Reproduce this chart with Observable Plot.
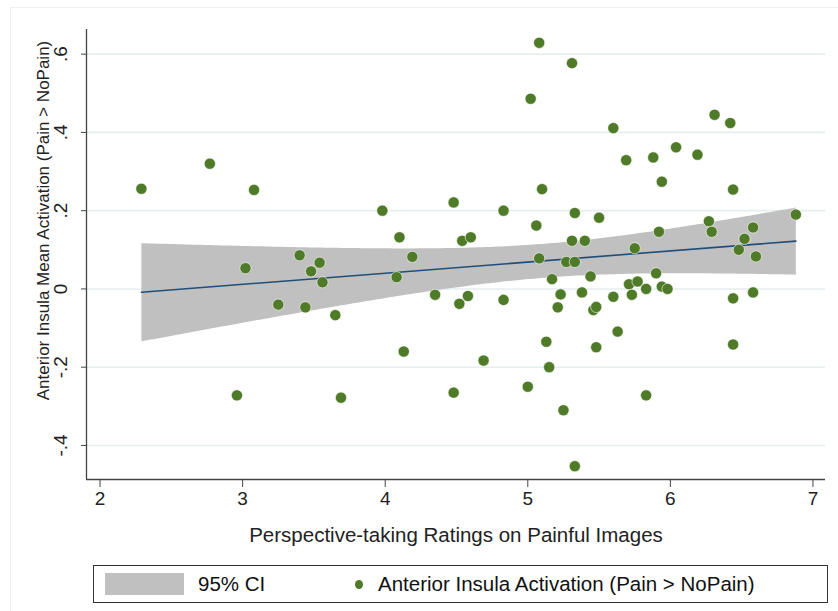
<!DOCTYPE html>
<html>
<head>
<meta charset="utf-8">
<script src="https://cdn.jsdelivr.net/npm/d3@7"></script>
<script src="https://cdn.jsdelivr.net/npm/@observablehq/plot@0.6"></script>
<style>
  body { margin: 0; background: #fff; font-family: "Liberation Sans", Arial, sans-serif; }
  #wrap { position: relative; width: 838px; height: 611px; overflow: hidden; }
  #outer { position: absolute; left: 10px; top: 7px; width: 830px; height: 620px; border: 1px solid #eef0f1; }
  #chart { position: absolute; left: 0; top: 0; }
  #legend { position: absolute; left: 93px; top: 565px; width: 733px; height: 36px; border: 1.5px solid #333; box-sizing: content-box; font-size: 20.5px; color: #111; }
  #legend div { position: absolute; }
  .sw { left: 11px; top: 7px; width: 79px; height: 22px; background: #c0c0c0; }
  .lab1 { left: 104px; top: 6px; line-height: 24px; }
  .dot { left: 261px; top: 14px; width: 8px; height: 9px; border-radius: 50%; background: #4f7a28; }
  .lab2 { left: 284px; top: 6px; line-height: 24px; }
</style>
</head>
<body>
<div id="wrap">
  <div id="outer"></div>
  <div id="chart"></div>
  <div id="legend">
    <div class="sw"></div><div class="lab1">95% CI</div>
    <div class="dot"></div><div class="lab2">Anterior Insula Activation (Pain &gt; NoPain)</div>
  </div>
</div>
<script>
// Perspective-taking ratings (x) and anterior insula activation (y)
const ratings = [
  2.29, 2.77, 3.08, 3.98, 4.10, 4.19, 3.02, 3.40, 3.54, 3.48, 3.56, 4.08,
  3.25, 3.44, 3.65, 4.13, 2.96, 3.69,
  5.08, 5.31, 5.02, 5.60, 6.31, 6.42, 5.69, 5.88, 6.04, 6.19, 5.94, 5.10,
  6.44, 4.48, 4.83, 5.33, 5.50, 6.88, 5.06, 6.27, 6.29, 6.58, 5.92, 4.54,
  4.60, 5.31, 5.40, 6.52, 5.75, 6.48, 5.08, 6.60, 5.27, 5.33, 5.17, 5.44,
  5.90, 5.71, 5.77, 5.83, 5.94, 5.98,
  4.35, 4.52, 4.58, 4.83, 5.23, 5.38, 5.21, 5.60, 5.73, 5.46, 5.48, 6.44,
  6.58, 5.63, 5.13, 5.48, 6.44, 4.69, 5.15, 4.48, 5.00, 5.83, 5.25, 5.33
];
const activation = [
  0.256, 0.320, 0.253, 0.200, 0.132, 0.082, 0.053, 0.086, 0.067, 0.045, 0.017, 0.030,
  -0.040, -0.047, -0.067, -0.160, -0.272, -0.278,
  0.629, 0.577, 0.486, 0.411, 0.445, 0.424, 0.329, 0.336, 0.362, 0.343, 0.274, 0.255,
  0.254, 0.221, 0.200, 0.194, 0.182, 0.190, 0.162, 0.173, 0.146, 0.157, 0.146, 0.123,
  0.132, 0.123, 0.123, 0.128, 0.104, 0.100, 0.078, 0.083, 0.069, 0.069, 0.025, 0.032,
  0.040, 0.012, 0.019, 0.000, 0.006, 0.000,
  -0.015, -0.038, -0.018, -0.028, -0.014, -0.009, -0.047, -0.020, -0.015, -0.054, -0.046, -0.024,
  -0.009, -0.109, -0.135, -0.149, -0.142, -0.183, -0.200, -0.265, -0.250, -0.272, -0.310, -0.453
];
const xTicks = [2, 3, 4, 5, 6, 7];
const yTicks = [-0.4, -0.2, 0, 0.2, 0.4, 0.6];
const yTickLabels = ["-.4", "-.2", "0", ".2", ".4", ".6"];
const xDomain = [1.905, 7.088];
const yDomain = [-0.487, 0.663];
const xTitle = "Perspective-taking Ratings on Painful Images";
const yTitle = "Anterior Insula Mean Activation (Pain > NoPain)";

const data = ratings.map((x, i) => ({x, y: activation[i]}));

const chart = Plot.plot({
  width: 838,
  height: 555,
  marginLeft: 86,
  marginRight: 13,
  marginTop: 29,
  marginBottom: 76,
  style: {fontFamily: "Liberation Sans, Arial, sans-serif", background: "transparent", color: "#222"},
  x: {domain: xDomain},
  y: {domain: yDomain},
  marks: [
    Plot.gridY(yTicks, {stroke: "#e6eef0", strokeOpacity: 1, strokeWidth: 1.6}),
    Plot.linearRegressionY(data, {x: "x", y: "y", ci: 0.95, fill: "#c0c0c0", fillOpacity: 1, stroke: "#1f4e7a", strokeWidth: 1.6}),
    Plot.dot(data, {x: "x", y: "y", r: 5.6, fill: "#4f7a28", stroke: "#fff", strokeWidth: 0.6}),
    Plot.ruleX([xDomain[0]], {stroke: "#444", strokeWidth: 1.3}),
    Plot.ruleY([yDomain[0]], {stroke: "#444", strokeWidth: 1.3}),
    Plot.axisX(xTicks, {tickSize: 8, tickPadding: 4, fontSize: 19, stroke: "#444", tickFormat: d => String(d), label: null}),
    Plot.axisY(yTicks, {tickSize: 5, tickFormat: () => "", stroke: "#444", label: null}),
    Plot.text(yTicks, {x: () => xDomain[0], y: d => d, text: (d, i) => yTickLabels[i], rotate: -90, dx: -26, fontSize: 19, textAnchor: "middle", lineAnchor: "middle", fill: "#222"}),
    Plot.text([yTitle], {frameAnchor: "left", dx: -43, dy: -34, rotate: -90, fontSize: 17, textAnchor: "middle", lineAnchor: "middle", fill: "#222"}),
    Plot.text([xTitle], {frameAnchor: "bottom", dy: 56, fontSize: 20.5, textAnchor: "middle", lineAnchor: "middle", fill: "#222"})
  ]
});
document.getElementById("chart").appendChild(chart);
</script>
</body>
</html>
